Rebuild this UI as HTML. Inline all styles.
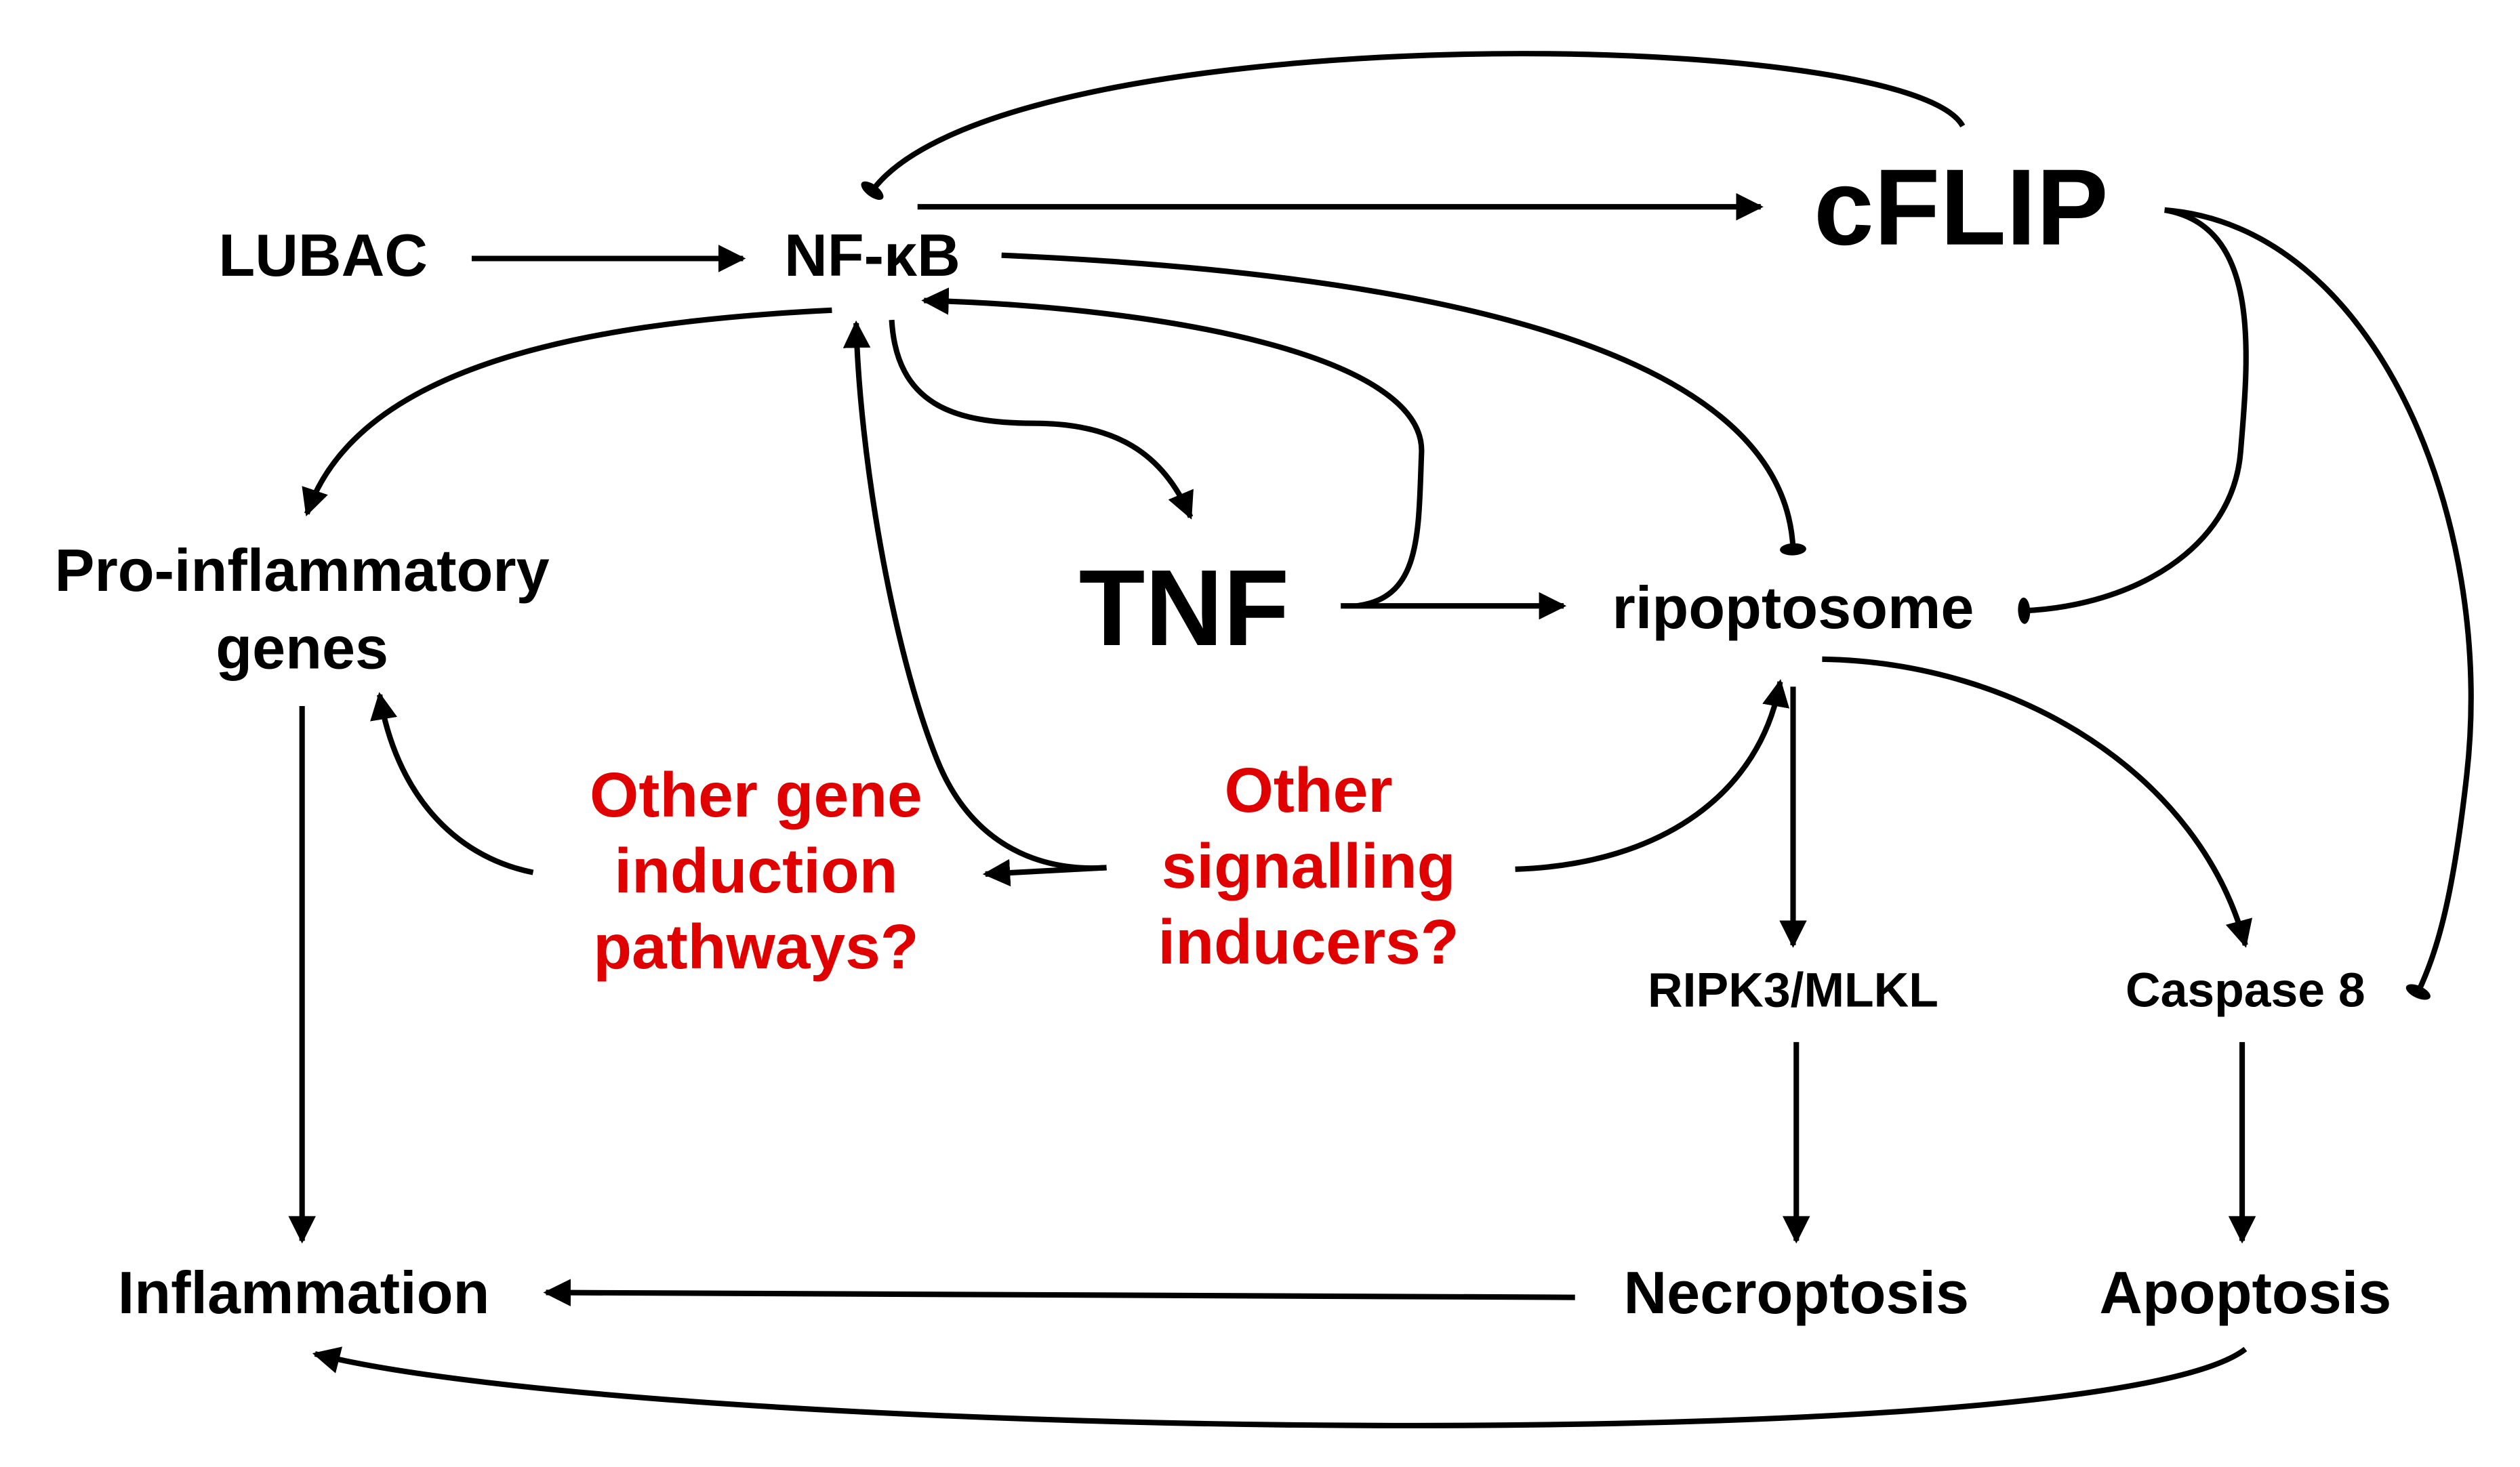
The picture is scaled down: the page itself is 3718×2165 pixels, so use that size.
<!DOCTYPE html>
<html><head><meta charset="utf-8"><style>
html,body{margin:0;padding:0;background:#fff;}
svg{display:block;}
text{font-family:"Liberation Sans",Arial,sans-serif;font-weight:bold;text-anchor:middle;dominant-baseline:central;}
.r{fill:#e00000;}
</style></head><body>
<svg width="3718" height="2165" viewBox="0 0 1560 908" preserveAspectRatio="none" xmlns="http://www.w3.org/2000/svg">
<defs>
<marker id="a" viewBox="0 0 10 10" refX="9" refY="5" markerWidth="5" markerHeight="5" orient="auto" markerUnits="strokeWidth"><path d="M0,0 L10,5 L0,10 Z" fill="#000"/></marker>
<marker id="b" viewBox="0 0 10 10" refX="5" refY="5" markerWidth="5" markerHeight="5" orient="auto" markerUnits="strokeWidth"><ellipse cx="5" cy="5" rx="2.2" ry="4.8" fill="#000"/></marker>
</defs>
<g fill="none" stroke="#000" stroke-width="3.4">
<path d="M292,160 L460,160" marker-end="url(#a)"/>
<path d="M568,128 L1090,128" marker-end="url(#a)"/>
<path d="M1215,78 C1180,15 620,10 540,118" marker-end="url(#b)"/>
<path d="M515,192 C350,200 220,230 190,318" marker-end="url(#a)"/>
<path d="M552,198 C555,250 590,262 640,262 C690,262 720,280 737,320" marker-end="url(#a)"/>
<path d="M620,158 C900,170 1105,220 1110,340" marker-end="url(#b)"/>
<path d="M830,375 L968,375" marker-end="url(#a)"/>
<path d="M840,375 C880,370 878,330 880,280 C882,220 720,190 572,186" marker-end="url(#a)"/>
<path d="M1340,130 C1400,140 1392,220 1387,280 C1382,340 1320,375 1253,378" marker-end="url(#b)"/>
<path d="M1340,130 C1470,140 1545,320 1527,480 C1518,560 1508,590 1497,614" marker-end="url(#b)"/>
<path d="M1110,425 L1110,585" marker-end="url(#a)"/>
<path d="M1128,408 C1250,410 1362,480 1390,585" marker-end="url(#a)"/>
<path d="M1112,645 L1112,768" marker-end="url(#a)"/>
<path d="M1388,645 L1388,768" marker-end="url(#a)"/>
<path d="M187,437 L187,768" marker-end="url(#a)"/>
<path d="M975,803 L338,800" marker-end="url(#a)"/>
<path d="M1390,835 C1300,905 400,890 195,838" marker-end="url(#a)"/>
<path d="M330,540 C280,530 245,490 235,430" marker-end="url(#a)"/>
<path d="M685,537 C640,540 600,520 580,470 C552,400 532,280 530,200" marker-end="url(#a)"/>
<path d="M685,537 L610,541" marker-end="url(#a)"/>
<path d="M938,538 C1030,535 1090,490 1102,422" marker-end="url(#a)"/>
</g>
<text x="200" y="158" font-size="37">LUBAC</text>
<text x="540" y="158" font-size="37">NF-κB</text>
<text x="1214" y="128" font-size="67">cFLIP</text>
<text x="187" y="353" font-size="37">Pro-inflammatory</text>
<text x="187" y="401" font-size="37">genes</text>
<text x="733" y="376" font-size="67">TNF</text>
<text x="1110" y="376" font-size="37">ripoptosome</text>
<text class="r" x="468" y="492" font-size="39">Other gene</text>
<text class="r" x="468" y="539" font-size="39">induction</text>
<text class="r" x="468" y="586" font-size="39">pathways?</text>
<text class="r" x="810" y="489" font-size="39">Other</text>
<text class="r" x="810" y="536" font-size="39">signalling</text>
<text class="r" x="810" y="583" font-size="39">inducers?</text>
<text x="1110" y="613" font-size="30">RIPK3/MLKL</text>
<text x="1390" y="613" font-size="30">Caspase 8</text>
<text x="188" y="800" font-size="37">Inflammation</text>
<text x="1112" y="800" font-size="37">Necroptosis</text>
<text x="1390" y="800" font-size="37">Apoptosis</text>
</svg>
</body></html>
